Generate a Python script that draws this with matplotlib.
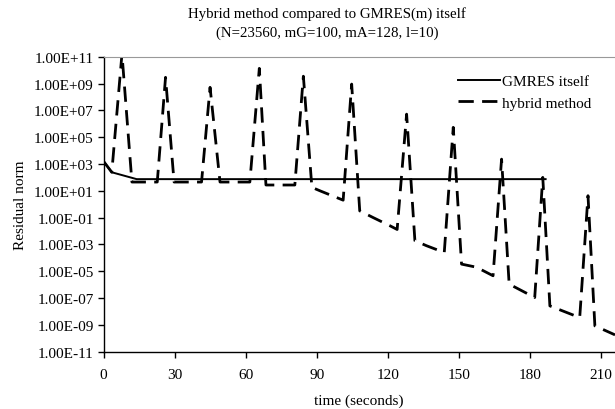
import matplotlib
matplotlib.use('Agg')
import matplotlib.pyplot as plt
from matplotlib.ticker import FixedLocator

plt.rcParams['font.family'] = ['Liberation Serif', 'DejaVu Serif']

# GMRES(m) itself: time (s) vs residual norm
gmres_time = [0, 3.5, 14, 186.7]
gmres_res = [1.6e3, 2.4e2, 74, 74]

# hybrid method: time (s) vs residual norm
hybrid_time = [0, 3.5, 7.8, 12.0, 22.7, 26.2, 29.8, 41.4, 45.0, 49.2, 61.8,
               65.8, 68.6, 80.8, 84.4, 88.0, 91.4, 101.2, 104.8, 108.2, 113.9,
               120.9, 124.0, 128.0, 131.5, 136.4, 143.9, 147.7, 151.2, 157.5,
               164.5, 168.1, 171.3, 182.1, 185.5, 188.5, 201.1, 204.6, 207.5,
               216.0]
hybrid_res = [1.6e3, 2.4e2, 1.6e11, 45, 45, 2.9e9, 45, 45, 5.2e8, 45, 45,
              1.35e10, 27, 27, 3.5e9, 18, 10, 2.0, 9.1e8, 0.32, 0.1,
              0.025, 0.013, 5.2e6, 1.9e-3, 8e-4, 2.5e-4, 5.4e5, 3.4e-5, 2e-5,
              4.6e-6, 2.3e3, 1.1e-6, 1.1e-7, 1e2, 2.6e-8, 3.5e-9, 4.3, 8.5e-10,
              1.8e-10]

y_exps = list(range(-11, 12, 2))
y_ticks = [10.0 ** e for e in y_exps]
y_labels = ['1.00E%s%02d' % ('+' if e >= 0 else '-', abs(e)) for e in y_exps]
x_ticks = [0, 30, 60, 90, 120, 150, 180, 210]

fs = 11

fig = plt.figure(figsize=(6.15, 4.1), dpi=100)
ax = fig.add_axes([103.5 / 615, 1 - 352.7 / 410, 1 - 103.5 / 615, (352.7 - 57.7) / 410])

ax.plot(gmres_time, gmres_res, color='black', lw=1.4, label='GMRES itself')
ax.plot(hybrid_time, hybrid_res, color='black', lw=2.0, dashes=(5.5, 3),
        label='hybrid method')

ax.set_yscale('log')
ax.set_ylim(1e-11, 1e11)
ax.set_xlim(0, 216)
ax.yaxis.set_major_locator(FixedLocator(y_ticks))
ax.yaxis.set_minor_locator(FixedLocator([]))
ax.set_yticklabels(y_labels)
ax.set_xticks(x_ticks)
ax.tick_params(labelsize=fs, length=4, width=1, direction='out', pad=3)
ax.tick_params(axis='x', pad=8)

ax.spines['right'].set_visible(False)
ax.spines['top'].set_color('#999999')
ax.spines['left'].set_linewidth(1)
ax.spines['bottom'].set_linewidth(1)

ax.set_xlabel('time (seconds)', fontsize=fs, labelpad=9)
ax.set_ylabel('Residual norm', fontsize=fs, labelpad=5)

fig.text(327 / 615, 1 - 14 / 410, 'Hybrid method compared to GMRES(m) itself',
         ha='center', va='center', fontsize=10.7)
fig.text(327 / 615, 1 - 33 / 410, '(N=23560, mG=100, mA=128, l=10)',
         ha='center', va='center', fontsize=10.7)

ax.legend(loc='center left', bbox_to_anchor=(458 / 615, 1 - 93 / 410),
          bbox_transform=fig.transFigure, frameon=False, fontsize=fs,
          handlelength=2.75, handletextpad=0.15, labelspacing=0.5,
          borderpad=0, borderaxespad=0)

fig.savefig('out.png', dpi=100)
